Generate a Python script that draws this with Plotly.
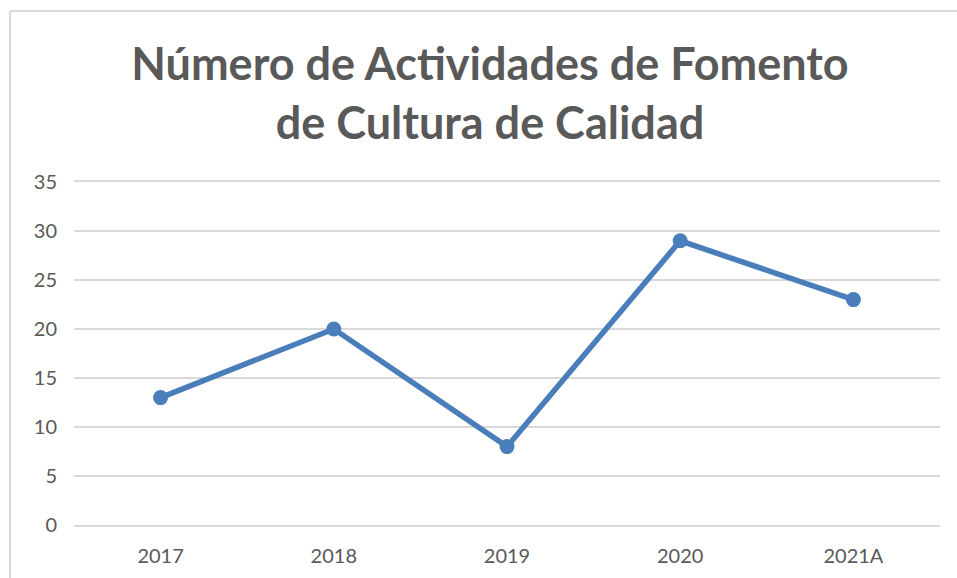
import plotly.graph_objects as go

categories = ["2017", "2018", "2019", "2020", "2021A"]
values = [13, 20, 8, 29, 23]
y_ticks = [0, 5, 10, 15, 20, 25, 30, 35]

W, H = 957, 578
L, T = 74, 182
R, B = W - 940, H - 525
pw, ph = W - L - R, H - T - B

FONT = "Lato"
GRID = "#d9d9d9"
TXT = "#595959"

def px_x(v):
    return (v - L) / pw

def px_y(v):
    return (H - B - v) / ph

fig = go.Figure()
fig.add_trace(go.Scatter(
    x=categories, y=values, mode="lines+markers",
    line=dict(color="#4a7ebb", width=5.5),
    marker=dict(color="#4a7ebb", size=15),
    showlegend=False, hoverinfo="x+y",
))

fig.update_layout(
    width=W, height=H,
    margin=dict(l=L, r=R, t=T, b=B),
    paper_bgcolor="white", plot_bgcolor="white",
    title=dict(
        text="Número de Actividades de Fomento<br>de Cultura de Calidad",
        x=490 / W, xanchor="center",
        y=1 - 80 / H, yanchor="middle",
        font=dict(family=FONT, size=45, color=TXT, weight="bold"),
    ),
    xaxis=dict(
        type="category", range=[-0.5, 4.5],
        showgrid=False, zeroline=False,
        showline=True, mirror=True, linecolor=GRID, linewidth=2,
        ticks="", tickfont=dict(family=FONT, size=20, color=TXT),
        ticklabelstandoff=12,
    ),
    yaxis=dict(
        range=[0, 35], tickvals=y_ticks,
        showgrid=True, gridcolor=GRID, gridwidth=2,
        zeroline=False, showline=False, ticks="",
        tickfont=dict(family=FONT, size=20, color=TXT),
        ticklabelstandoff=16,
    ),
    shapes=[
        dict(type="line", xref="paper", yref="paper",
             x0=px_x(10), x1=px_x(10), y0=px_y(600), y1=px_y(11),
             line=dict(color=GRID, width=2), layer="below"),
        dict(type="line", xref="paper", yref="paper",
             x0=px_x(10), x1=px_x(980), y0=px_y(11), y1=px_y(11),
             line=dict(color=GRID, width=2), layer="below"),
    ],
)

fig.write_html(
    "out.html",
    config={"displayModeBar": False},
    post_script="document.body.style.margin='0';document.body.style.overflow='hidden';",
)
